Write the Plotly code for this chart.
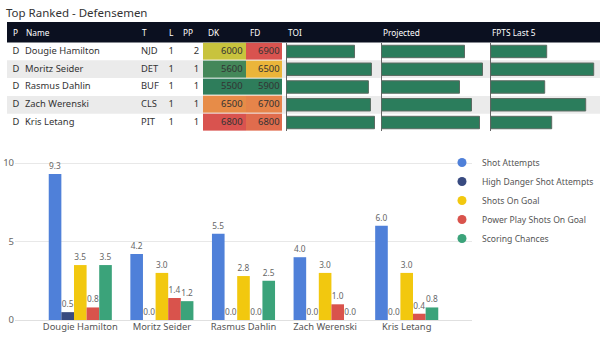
import plotly.graph_objects as go

W, H = 600, 345

# ---------------- data ----------------
players = ["Dougie Hamilton", "Moritz Seider", "Rasmus Dahlin", "Zach Werenski", "Kris Letang"]
positions = ["D", "D", "D", "D", "D"]
teams = ["NJD", "DET", "BUF", "CLS", "PIT"]
lines = [1, 1, 1, 1, 1]
pp_units = [2, 1, 1, 1, 1]
dk_salary = [6000, 5600, 5500, 6500, 6800]
fd_salary = [6900, 6500, 5900, 6700, 6800]
toi = [20.1, 25.1, 24.2, 24.8, 26.0]
projected = [8.3, 10.1, 7.8, 9.0, 9.8]
fpts_last5 = [5.6, 10.3, 5.4, 9.5, 6.1]

series_names = ["Shot Attempts", "High Danger Shot Attempts", "Shots On Goal",
                "Power Play Shots On Goal", "Scoring Chances"]
shot_attempts = [9.3, 4.2, 5.5, 4.0, 6.0]
high_danger = [0.5, 0.0, 0.0, 0.0, 0.0]
shots_on_goal = [3.5, 3.0, 2.8, 3.0, 3.0]
pp_shots_on_goal = [0.8, 1.4, 0.0, 1.0, 0.4]
scoring_chances = [3.5, 1.2, 2.5, 0.0, 0.8]

header_labels = ["P", "Name", "T", "L", "PP", "DK", "FD", "TOI", "Projected", "FPTS Last 5"]
title_text = "Top Ranked - Defensemen"

# ---------------- styles ----------------
FONT = "Segoe UI, Noto Sans, sans-serif"
series_colors = ["#4f80d9", "#384a80", "#f2c80f", "#d9534c", "#3ba37a"]
heat_scale = [[0.0, "#2e7d5b"], [0.1, "#4a8a58"], [0.4, "#cfc63c"],
              [0.6, "#ebb53a"], [0.8, "#e6844a"], [1.0, "#d9534f"]]
bar_green = "#2b7d5c"


def px(xp):
    return xp / W


def py(yp):
    return 1 - yp / H


fig = go.Figure()

rows = list(range(len(players)))

# ---------- table: row axis y2, pixel x axis x2 ----------
row_top, row_bot = 42.6, 131.4
for vals, edges in [(dk_salary, [203, 246]), (fd_salary, [246, 282])]:
    fig.add_trace(go.Heatmap(
        z=[[v] for v in vals], x=edges, y=[r - 0.5 for r in rows] + [rows[-1] + 0.5],
        colorscale=heat_scale, zmin=min(vals), zmax=max(vals), showscale=False,
        ygap=1, hoverinfo="skip", xaxis="x2", yaxis="y2"))

text_cols = [
    (positions, 12.5, "middle right"),
    (players, 25, "middle right"),
    (teams, 141, "middle right"),
    (lines, 168.5, "middle right"),
    (pp_units, 199, "middle left"),
    (dk_salary, 242.5, "middle left"),
    (fd_salary, 279.5, "middle left"),
]
for vals, xpos, tpos in text_cols:
    fig.add_trace(go.Scatter(
        x=[xpos] * len(vals), y=rows, text=[str(v) for v in vals], mode="text",
        textposition=tpos, textfont=dict(family=FONT, size=9.4, color="#333333"),
        marker=dict(size=1), showlegend=False, hoverinfo="skip",
        xaxis="x2", yaxis="y2"))

bar_cols = [(toi, "x3"), (projected, "x4"), (fpts_last5, "x5")]
for vals, xa in bar_cols:
    fig.add_trace(go.Bar(
        x=vals, y=rows, orientation="h", width=0.7,
        marker=dict(color=bar_green, line=dict(color="#5b6b62", width=1)),
        showlegend=False, hoverinfo="skip", xaxis=xa, yaxis="y2"))

# ---------- bar chart ----------
series_vals = [shot_attempts, high_danger, shots_on_goal, pp_shots_on_goal, scoring_chances]
for name, vals, col in zip(series_names, series_vals, series_colors):
    fig.add_trace(go.Bar(
        x=players, y=vals, name=name, marker=dict(color=col, line=dict(width=0)),
        texttemplate="%{y:.1f}", textposition="outside", constraintext="none",
        textfont=dict(family=FONT, size=8.3, color="#666666"),
        cliponaxis=False, showlegend=False, hoverinfo="skip",
        xaxis="x", yaxis="y"))
for name, col in zip(series_names, series_colors):
    fig.add_trace(go.Scatter(
        x=[None], y=[None], mode="markers", name=name,
        marker=dict(color=col, size=9, symbol="circle"),
        xaxis="x", yaxis="y"))

# ---------- shapes & annotations ----------
shapes = []
for r in rows:
    if r % 2 == 1:
        shapes.append(dict(type="rect", xref="paper", yref="y2", x0=px(7), x1=1,
                           y0=r - 0.5, y1=r + 0.5, fillcolor="#ebebeb",
                           line=dict(width=0), layer="below"))
shapes.append(dict(type="rect", xref="paper", yref="paper", x0=px(7), x1=1,
                   y0=py(42.6), y1=py(22), fillcolor="#0b1020",
                   line=dict(width=0), layer="below"))

annotations = [dict(text=title_text, x=px(4), y=py(12), xref="paper", yref="paper",
                    xanchor="left", yanchor="middle", showarrow=False,
                    font=dict(family=FONT, size=11.5, color="#333333"))]
header_x = [10.5, 24, 140, 167, 181, 206, 248, 286, 381, 490]
for lab, hx in zip(header_labels, header_x):
    annotations.append(dict(text=lab, x=px(hx), y=py(32), xref="paper", yref="paper",
                            xanchor="left", yanchor="middle", showarrow=False,
                            font=dict(family=FONT, size=8.3, color="#ffffff")))

hidden = dict(visible=False, fixedrange=True)
tbl_dom = [py(row_bot), py(row_top)]
databar_axis = dict(showgrid=False, showticklabels=False, zeroline=True,
                    zerolinecolor="#666666", zerolinewidth=1, fixedrange=True, anchor="y2")

fig.update_layout(
    width=W, height=H, margin=dict(l=0, r=0, t=0, b=0, autoexpand=False),
    paper_bgcolor="white", plot_bgcolor="rgba(0,0,0,0)",
    font=dict(family=FONT, color="#555555"),
    barmode="group", bargap=0.227, bargroupgap=0,
    shapes=shapes, annotations=annotations,
    xaxis=dict(domain=[px(15), px(472)], range=[-0.8, 4.8], type="category",
               showgrid=False, zeroline=False, showline=False, ticks="",
               tickfont=dict(family=FONT, size=9.4, color="#555555"), fixedrange=True),
    yaxis=dict(domain=[py(320), py(150)], range=[0, 10.83], tickvals=[0, 5, 10],
               showgrid=True, gridcolor="#e8e8e8", gridwidth=1, zeroline=True,
               zerolinecolor="#e0e0e0", zerolinewidth=1, showline=False, ticks="",
               tickfont=dict(family=FONT, size=9.5, color="#666666"), fixedrange=True),
    xaxis2=dict(domain=[0, 1], range=[0, W], anchor="y2", **hidden),
    yaxis2=dict(domain=tbl_dom, range=[4.5, -0.5], anchor="x2", **hidden),
    xaxis3=dict(domain=[px(286.5), px(381)], range=[0, max(toi) * 94.5 / 88], **databar_axis),
    xaxis4=dict(domain=[px(381.5), px(490.5)], range=[0, max(projected) * 109 / 101], **databar_axis),
    xaxis5=dict(domain=[px(490.7), 1], range=[0, max(fpts_last5) * 109.3 / 103], **databar_axis),
    legend=dict(x=px(442), y=py(148), xanchor="left", yanchor="top",
                bgcolor="rgba(0,0,0,0)", borderwidth=0,
                font=dict(family=FONT, size=8.6, color="#555555"),
                itemclick=False, itemdoubleclick=False),
    showlegend=True,
)

fig.write_html("out.html", config={"displayModeBar": False, "staticPlot": True})
